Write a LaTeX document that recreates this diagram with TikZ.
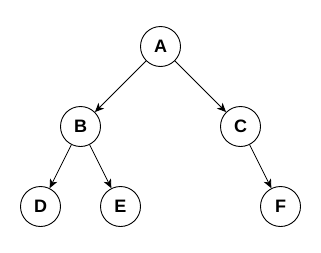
\documentclass[tikz,border=0pt]{standalone}
\usepackage{fontspec}
\setmainfont{Liberation Sans}
\usetikzlibrary{arrows.meta}
\begin{document}
\begin{tikzpicture}[x=1pt,y=-1pt,
  treenode/.style={circle,draw=black,line width=0.9pt,minimum size=40pt,inner sep=0pt,font=\fontsize{18}{18}\selectfont\bfseries},
  edge/.style={line width=0.8pt,-{Stealth[length=9pt,width=8pt,inset=2.5pt]}}]
\useasboundingbox (0,0) rectangle (321,252);
\node[treenode] (A) at (160.5,46.5) {A};
\node[treenode] (B) at (80.5,126.5) {B};
\node[treenode] (C) at (240.5,126.5) {C};
\node[treenode] (D) at (40.5,206.5) {D};
\node[treenode] (E) at (120.5,206.5) {E};
\node[treenode] (F) at (280.5,206.5) {F};
\draw[edge] (A) -- (B);
\draw[edge] (A) -- (C);
\draw[edge] (B) -- (D);
\draw[edge] (B) -- (E);
\draw[edge] (C) -- (F);
\end{tikzpicture}
\end{document}
